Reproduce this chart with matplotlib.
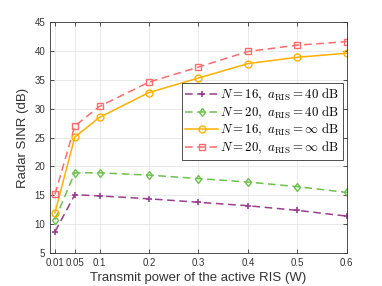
import matplotlib
matplotlib.use("Agg")
import matplotlib.pyplot as plt

# Datos
potencia = [0.01, 0.05, 0.1, 0.2, 0.3, 0.4, 0.5, 0.6]
sinr_n16_40 = [8.7, 15.1, 14.9, 14.4, 13.8, 13.2, 12.4, 11.4]
sinr_n20_40 = [10.8, 18.9, 18.9, 18.5, 17.9, 17.3, 16.5, 15.5]
sinr_n16_inf = [12.0, 25.1, 28.5, 32.8, 35.3, 37.8, 38.9, 39.6]
sinr_n20_inf = [15.2, 27.0, 30.4, 34.6, 37.2, 39.9, 41.0, 41.6]

xticks = [0.01, 0.05, 0.1, 0.2, 0.3, 0.4, 0.5, 0.6]
xtick_labels = ["0.01", "0.05", "0.1", "0.2", "0.3", "0.4", "0.5", "0.6"]

plt.rcParams['font.family'] = ['Liberation Sans', 'DejaVu Sans']
plt.rcParams['mathtext.fontset'] = 'cm'

fig = plt.figure(figsize=(3.82, 2.86), dpi=100)
ax = fig.add_axes([0.131, 0.115, 0.777, 0.808])

ax.plot(potencia, sinr_n16_40, color='#9B3D8F', linestyle=(0, (5, 3)), linewidth=1.1,
        marker='+', markersize=5, markeredgewidth=1.2,
        label=r'$N=16,\ a_{\mathrm{RIS}}=40\ \mathrm{dB}$')
ax.plot(potencia, sinr_n20_40, color='#6CC24A', linestyle=(0, (5, 3)), linewidth=1.1,
        marker='d', markersize=4.5, markerfacecolor='none', markeredgewidth=1.0,
        label=r'$N=20,\ a_{\mathrm{RIS}}=40\ \mathrm{dB}$')
ax.plot(potencia, sinr_n16_inf, color='#FFB000', linestyle='-', linewidth=1.1,
        marker='o', markersize=5, markerfacecolor='none', markeredgewidth=1.0,
        label=r'$N=16,\ a_{\mathrm{RIS}}=\infty\ \mathrm{dB}$')
ax.plot(potencia, sinr_n20_inf, color='#FF6B6B', linestyle=(0, (5, 3)), linewidth=1.1,
        marker='s', markersize=4, markerfacecolor='none', markeredgewidth=1.0,
        label=r'$N=20,\ a_{\mathrm{RIS}}=\infty\ \mathrm{dB}$')

ax.set_xlim(0, 0.6)
ax.set_ylim(5, 45)
ax.set_xticks(xticks)
ax.set_xticklabels(xtick_labels)
ax.set_yticks(range(5, 46, 5))
ax.tick_params(labelsize=7, colors='#333333', direction='in', top=True, right=True,
               length=3, width=0.6)
ax.grid(True, color='#e6e6e6', linewidth=0.6)
ax.set_axisbelow(True)
for s in ax.spines.values():
    s.set_color('#333333')
    s.set_linewidth(0.6)

ax.set_xlabel('Transmit power of the active RIS (W)', fontsize=9.5, color='#333333', labelpad=3)
ax.set_ylabel('Radar SINR (dB)', fontsize=9.5, color='#333333', labelpad=4)

leg = ax.legend(loc='upper right', bbox_to_anchor=(0.987, 0.735), fontsize=9.3,
                handlelength=2.5, handletextpad=0.2, borderpad=0.3, labelspacing=0.1,
                fancybox=False, edgecolor='#333333', framealpha=1, borderaxespad=0)
leg.get_frame().set_linewidth(0.6)

fig.savefig('out.png', dpi=100)
